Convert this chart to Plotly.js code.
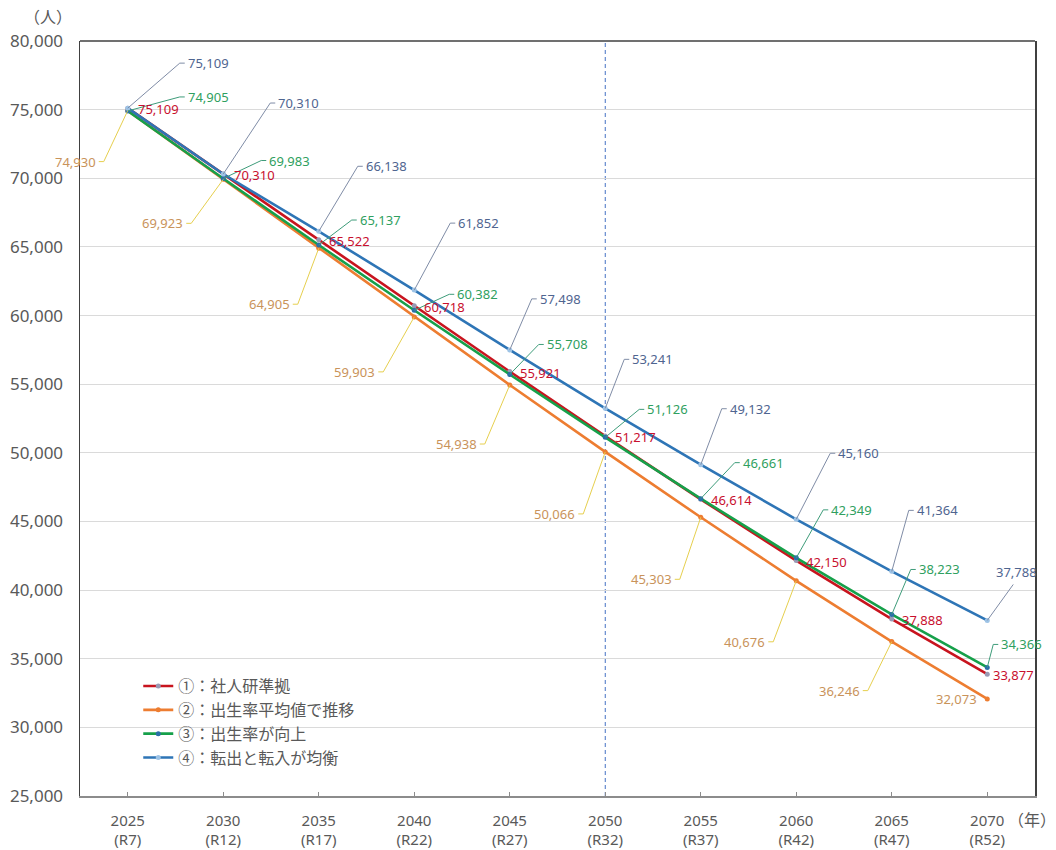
<!DOCTYPE html>
<html><head><meta charset="utf-8">
<script src="https://cdn.plot.ly/plotly-3.0.1.min.js"></script>
<style>body{margin:0;background:#fff}#chart{width:1056px;height:850px}</style>
</head><body><div id="chart"></div>
<script>
// ---- data ----
const years = [2025,2030,2035,2040,2045,2050,2055,2060,2065,2070];
const reiwa = ['R7','R12','R17','R22','R27','R32','R37','R42','R47','R52'];
const seriesNames = ['①：社人研準拠','②：出生率平均値で推移','③：出生率が向上','④：転出と転入が均衡'];
const s1 = [75109,70310,65522,60718,55921,51217,46614,42150,37888,33877];
const s2 = [74930,69923,64905,59903,54938,50066,45303,40676,36246,32073];
const s3 = [74905,69983,65137,60382,55708,51126,46661,42349,38223,34366];
const s4 = [75109,70310,66138,61852,57498,53241,49132,45160,41364,37788];
const yTicks = [25000,30000,35000,40000,45000,50000,55000,60000,65000,70000,75000,80000];
const dividerYear = 2050;

// ---- styling / label placement (pixel offsets) ----
const lineColors = ['#C8141E','#ED7D31','#16A04A','#2E75B6'];
const markerColors = ['#9A9AB4','#ED7D31','#2A6FA8','#9DC3E6'];
const labelColors = ['#C8102E','#C9935A','#2FA060','#4F6590'];
const leaderColors = ['#C8102E','#E6CF4E','#3E9C7A','#7F8CA6'];
const place = [
  {anchor:'left',  dx:[8,9,8,8,8,8,8,8,8,4], dy:[1,1,1,1,1,1,1,1,1,1], leader:false},
  {anchor:'right', dx:[-30,-38,-27,-37,-31,-28,-27,-29,-30,-8], dy:[51,44,56,55,59,62,62,61,49,0], leader:true},
  {anchor:'left',  dx:[58,44,39,41,35,40,40,33,25,12], dy:[-14,-18,-25,-16,-30,-28,-36,-48,-45,-23], leader:true},
  {anchor:'left',  dx:[58,53,45,42,28,25,27,40,23,7], dy:[-45,-71,-65,-67,-51,-49,-56,-66,-61,-48], leader:true}
];
const allSeries = [s1,s2,s3,s4];

const traces = allSeries.map((s,k)=>({
  type:'scatter', mode:'lines+markers', x:years, y:s, name:seriesNames[k],
  line:{color:lineColors[k], width:2.6},
  marker:{color:markerColors[k], size:5},
  cliponaxis:false
}));

const fmt = v => v.toLocaleString('en-US');
const annotations = [];
const shapes = [];
// divider line at 2050
shapes.push({type:'line', xref:'x', yref:'paper', x0:dividerYear, x1:dividerYear, y0:0, y1:1,
  line:{color:'#4472C4', width:1, dash:'4px,3px'}, layer:'below'});
allSeries.forEach((s,k)=>{
  const p = place[k];
  s.forEach((v,i)=>{
    annotations.push({
      x:years[i], y:v, xref:'x', yref:'y', text:fmt(v), showarrow:false,
      xanchor:p.anchor, yanchor:'middle', xshift:p.dx[i], yshift:-p.dy[i],
      font:{family:'Noto Sans, sans-serif', size:13, color:labelColors[k]}
    });
    const noLeader = !p.leader || (k===1 && i===9);
    if(!noLeader){
      let path;
      if(k===3 && i===9){
        path = `M0,0L26,${-(p.dy[i]+12)}`;
      } else if(p.anchor==='left'){
        path = `M0,0L${p.dx[i]-6},${-p.dy[i]}L${p.dx[i]-1},${-p.dy[i]}`;
      } else {
        path = `M0,0L${p.dx[i]+6},${-p.dy[i]}L${p.dx[i]+1},${-p.dy[i]}`;
      }
      shapes.push({type:'path', xref:'x', yref:'y', xsizemode:'pixel', ysizemode:'pixel',
        xanchor:years[i], yanchor:v, path:path, line:{color:leaderColors[k], width:1}, layer:'above'});
    }
  });
});
// top border
shapes.push({type:'line', xref:'paper', yref:'paper', x0:0, x1:1, y0:1, y1:1,
  line:{color:'#404040', width:1.5}});

annotations.push({xref:'paper', yref:'paper', x:-0.034, y:1.033, text:'（人）', showarrow:false,
  xanchor:'center', yanchor:'middle', font:{family:'Noto Sans CJK JP', size:16, color:'#595959'}});
annotations.push({xref:'paper', yref:'paper', x:0.997, y:-0.031, text:'（年）', showarrow:false,
  xanchor:'center', yanchor:'middle', font:{family:'Noto Sans CJK JP', size:16, color:'#595959'}});

const layout = {
  width:1056, height:850,
  margin:{l:80, r:21, t:41, b:54},
  paper_bgcolor:'#fff', plot_bgcolor:'#fff',
  showlegend:true,
  legend:{x:0.061, y:0.168, xanchor:'left', yanchor:'top', bgcolor:'rgba(0,0,0,0)',
    font:{family:'Noto Sans CJK JP', size:16, color:'#595959'}, itemwidth:30, tracegroupgap:0},
  xaxis:{type:'linear', tickvals:years, ticktext:years.map((y,i)=>y+'<br>('+reiwa[i]+')'),
    range:[2022.5,2072.5], showgrid:false, showline:true, linecolor:'#8c8c8c', linewidth:1.5,
    ticks:'inside', ticklen:4, tickcolor:'#8c8c8c', zeroline:false, ticklabelstandoff:10,
    tickfont:{family:'Noto Sans, sans-serif', size:15, color:'#595959'}},
  yaxis:{range:[25000,80000], tickvals:yTicks, ticktext:yTicks.map(fmt),
    showgrid:true, gridcolor:'#DADADA', gridwidth:1, zeroline:false,
    showline:true, mirror:true, linecolor:'#404040', linewidth:1.5, ticks:'', ticklabelstandoff:12,
    tickfont:{family:'Noto Sans, sans-serif', size:17, color:'#595959'}},
  annotations:annotations, shapes:shapes,
  font:{family:'Noto Sans, sans-serif'}
};
Plotly.newPlot('chart', traces, layout, {displayModeBar:false, staticPlot:true});
</script>
</body></html>
